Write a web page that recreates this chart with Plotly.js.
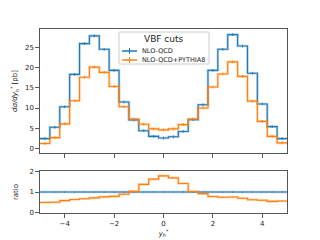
<!DOCTYPE html>
<html><head><meta charset="utf-8">
<script src="https://cdn.plot.ly/plotly-3.0.1.min.js"></script>
<style>html,body{margin:0;padding:0;background:#fff}</style>
</head><body><div id="chart" style="width:320px;height:240px"></div>
<script>
const binEdges = [-5.0,-4.6,-4.2,-3.8,-3.4,-3.0,-2.6,-2.2,-1.8,-1.4,-1.0,-0.6,-0.2,0.2,0.6,1.0,1.4,1.8,2.2,2.6,3.0,3.4,3.8,4.2,4.6,5.0];
const nloQCD = [2.46,5.25,10.3,18.3,25.9,27.8,24.5,19.3,11.5,7.07,4.4,3.0,2.6,2.9,4.2,7.1,10.8,19.3,24.5,28.1,25.3,18.6,11.0,5.4,2.46];
const nloPythia = [1.23,2.7,6.1,11.8,17.6,20.1,18.8,15.3,10.3,7.3,6.0,4.85,4.6,4.85,5.9,7.3,10.0,15.2,18.4,21.4,17.8,11.7,6.7,3.0,1.4];
const seriesNames = ['NLO-QCD','NLO-QCD+PYTHIA8'];
const legendTitle = 'VBF cuts';

const blue = '#1f77b4', orange = '#ff7f0e';
const centers = binEdges.slice(0,-1).map((e,i)=>(e+binEdges[i+1])/2);
const stepY = v => v.concat([v[v.length-1]]);
const ratioBlue = nloQCD.map((v,i)=>v/nloQCD[i]);
const ratioOrange = nloPythia.map((v,i)=>v/nloQCD[i]);

function stepTraces(vals, color, name, xa, ya, errVal){
  return [
    {x: binEdges, y: stepY(vals), mode:'lines', line:{shape:'hv', color:color, width:2.6}, opacity:0.3,
     xaxis:xa, yaxis:ya, showlegend:false, hoverinfo:'skip'},
    {x: binEdges, y: stepY(vals), mode:'lines', line:{shape:'hv', color:color, width:1.1},
     xaxis:xa, yaxis:ya, showlegend:false, hoverinfo:'skip'},
    {x: centers, y: vals, mode:'lines', line:{color:color, width:0}, name:name,
     error_y:{type:'constant', value:errVal, width:0, thickness:0.9, color:color},
     xaxis:xa, yaxis:ya, showlegend:false}
  ];
}

const traces = [].concat(
  stepTraces(nloQCD, blue, seriesNames[0], 'x', 'y', 0.35),
  stepTraces(nloPythia, orange, seriesNames[1], 'x', 'y', 0.35),
  stepTraces(ratioBlue, blue, seriesNames[0], 'x2', 'y2', 0.03),
  stepTraces(ratioOrange, orange, seriesNames[1], 'x2', 'y2', 0.02)
);

// pixel helpers for the hand-built legend box (plot area: x 40..287, y 29..213)
const L = 40, R = 287, T = 29, B = 213;
const px = p => (p - L) / (R - L);
const py = p => (B - p) / (B - T);
const fnt = {family:'DejaVu Sans', size:7, color:'#222'};

const shapes = [
  {type:'rect', xref:'paper', yref:'paper', x0:px(119), x1:px(209), y0:py(64), y1:py(32),
   line:{color:'#cccccc', width:1}, fillcolor:'rgba(255,255,255,0.85)', layer:'above'}
];
const annotations = [
  {xref:'paper', yref:'paper', x:px(164), y:py(39), text:legendTitle, showarrow:false, xanchor:'center', yanchor:'middle',
   font:{family:'DejaVu Sans', size:9, color:'#222'}}
];
[[blue, 51, seriesNames[0]], [orange, 60, seriesNames[1]]].forEach(([c, yy, name]) => {
  shapes.push({type:'line', xref:'paper', yref:'paper', x0:px(122), x1:px(137), y0:py(yy), y1:py(yy), line:{color:c, width:1.5}, layer:'above'});
  shapes.push({type:'line', xref:'paper', yref:'paper', x0:px(129.5), x1:px(129.5), y0:py(yy-3), y1:py(yy+3), line:{color:c, width:1}, layer:'above'});
  annotations.push({xref:'paper', yref:'paper', x:px(140), y:py(yy), text:name, showarrow:false, xanchor:'left', yanchor:'middle',
   font:{family:'DejaVu Sans', size:6.5, color:'#222'}});
});

const axBase = {showgrid:false, zeroline:false, showline:true, linecolor:'#555', linewidth:1.1, mirror:true,
  ticks:'outside', ticklen:3.5, tickwidth:0.8, tickcolor:'#333', tickfont:fnt};

const layout = {
  width:320, height:240,
  margin:{l:40, r:33, t:29, b:27},
  paper_bgcolor:'#fff', plot_bgcolor:'#fff',
  font:fnt,
  showlegend:false,
  shapes:shapes, annotations:annotations,
  xaxis: Object.assign({}, axBase, {range:[-5,5], domain:[0,1], anchor:'y', tickvals:[-4,-2,0,2,4], showticklabels:false}),
  yaxis: Object.assign({}, axBase, {range:[-1.1,29.5], domain:[0.326,1], anchor:'x', tickvals:[0,5,10,15,20,25],
    title:{text:'<i>dσ/dy</i><sub><i>h</i></sub><sup>*</sup> [pb]', font:fnt, standoff:6}}),
  xaxis2: Object.assign({}, axBase, {range:[-5,5], domain:[0,1], anchor:'y2', tickvals:[-4,-2,0,2,4], ticktext:['−4','−2','0','2','4'],
    title:{text:'<i>y</i><sub><i>h</i></sub><sup>*</sup>', font:fnt, standoff:2}}),
  yaxis2: Object.assign({}, axBase, {range:[0,2], domain:[0,0.228], anchor:'x2', tickvals:[0,1,2],
    title:{text:'ratio', font:fnt, standoff:10}})
};

Plotly.newPlot('chart', traces, layout, {staticPlot:true, displayModeBar:false});
</script></body></html>
